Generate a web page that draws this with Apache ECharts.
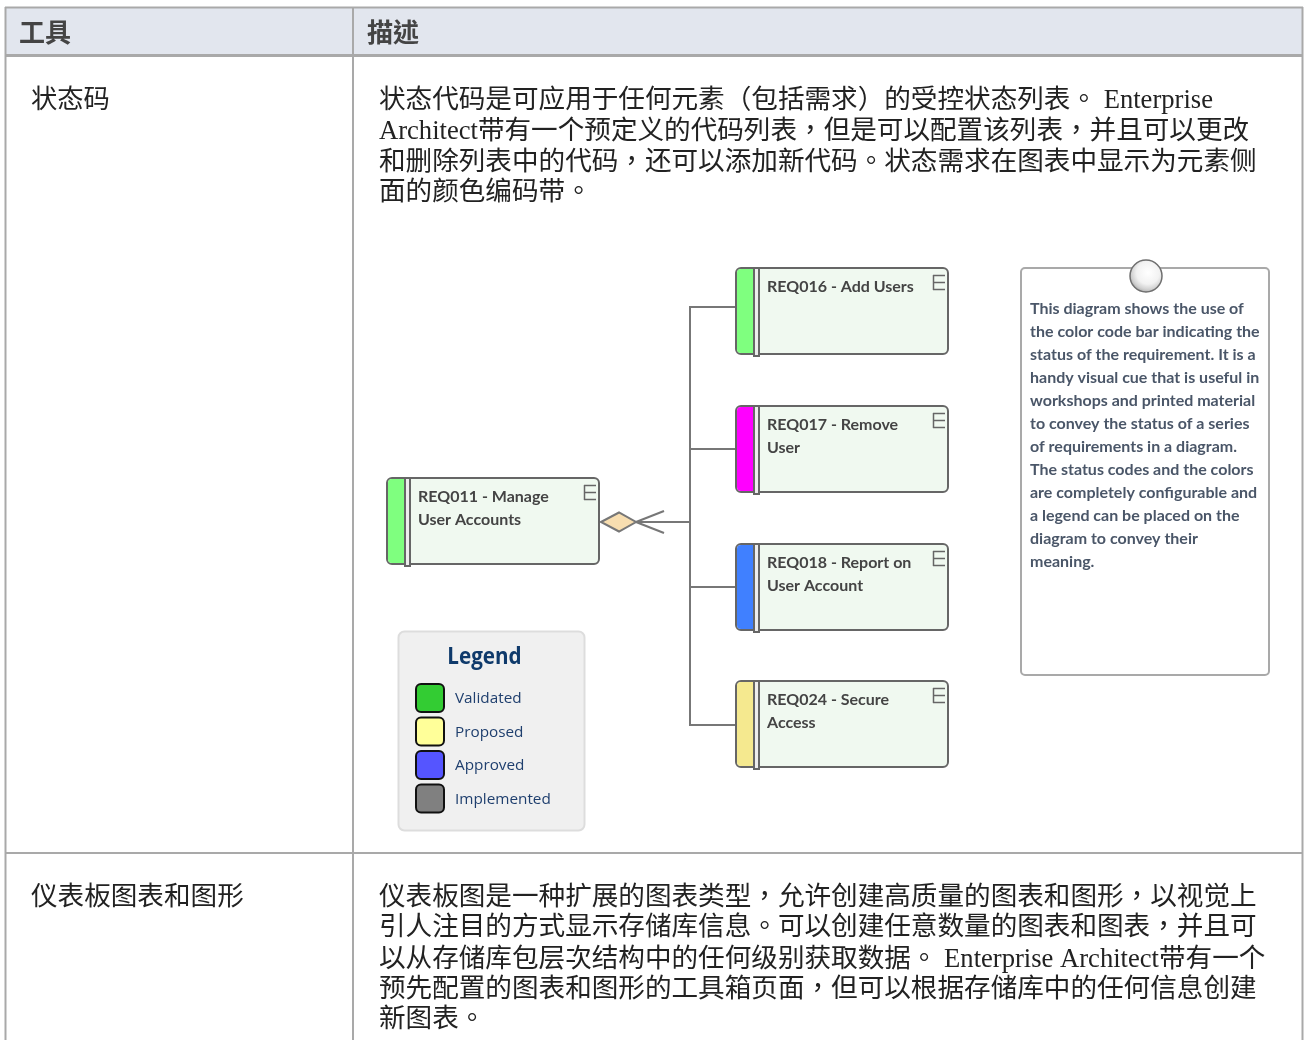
<!DOCTYPE html>
<html>
<head>
<meta charset="utf-8">
<title>状态码</title>
<script src="https://cdn.jsdelivr.net/npm/echarts@6/dist/echarts.min.js"></script>
<style>
  html, body { margin: 0; padding: 0; background: #fff; }
  #main { width: 1305px; height: 1040px; }
</style>
</head>
<body>
<div id="main"></div>
<script>
// 表格文字
var headers = ['工具', '描述'];
var toolNames = ['状态码', '仪表板图表和图形'];
var statusDesc = [
  '状态代码是可应用于任何元素（包括需求）的受控状态列表。 Enterprise',
  'Architect带有一个预定义的代码列表，但是可以配置该列表，并且可以更改',
  '和删除列表中的代码，还可以添加新代码。状态需求在图表中显示为元素侧',
  '面的颜色编码带。'
];
var dashDesc = [
  '仪表板图是一种扩展的图表类型，允许创建高质量的图表和图形，以视觉上',
  '引人注目的方式显示存储库信息。可以创建任意数量的图表和图表，并且可',
  '以从存储库包层次结构中的任何级别获取数据。 Enterprise Architect带有一个',
  '预先配置的图表和图形的工具箱页面，但可以根据存储库中的任何信息创建',
  '新图表。'
];

// 图中的需求元素
var parentReq = ['REQ011 - Manage', 'User Accounts'];
var childReqs = [
  ['REQ016 - Add Users'],
  ['REQ017 - Remove', 'User'],
  ['REQ018 - Report on', 'User Account'],
  ['REQ024 - Secure', 'Access']
];
var childBands = ['#7fff7f', '#ff00ff', '#4080ff', '#f5e98f'];

// 图例
var legendTitle = 'Legend';
var legendNames = ['Validated', 'Proposed', 'Approved', 'Implemented'];
var legendColors = ['#33cc33', '#ffff99', '#5555ff', '#808080'];

// 注释
var noteLines = [
  'This diagram shows the use of',
  'the color code bar indicating the',
  'status of the requirement. It is a',
  'handy visual cue that is useful in',
  'workshops and printed material',
  'to convey the status of a series',
  'of requirements in a diagram.',
  'The status codes and the colors',
  'are completely configurable and',
  'a legend can be placed on the',
  'diagram to convey their',
  'meaning.'
];

var BODY_FONT = '"Liberation Serif", "Noto Sans CJK TC", serif';
var LINE = '#a9a9a9';
var DARK = '#666666';

var els = [];

function rect(x, y, w, h, fill, stroke, lw, r, z) {
  els.push({
    type: 'rect', z: z || 1, silent: true,
    shape: { x: x, y: y, width: w, height: h, r: r || 0 },
    style: { fill: fill || 'none', stroke: stroke || 'none', lineWidth: lw || 0 }
  });
}
function line(x1, y1, x2, y2, color, lw, z) {
  els.push({
    type: 'line', z: z || 2, silent: true,
    shape: { x1: x1, y1: y1, x2: x2, y2: y2 },
    style: { stroke: color, lineWidth: lw }
  });
}
function text(str, x, y, font, color, z, align) {
  els.push({
    type: 'text', z: z || 5, silent: true, x: x, y: y,
    style: { text: str, font: font, fill: color, textAlign: align || 'left', textVerticalAlign: 'middle' }
  });
}

// 表格
rect(6, 8, 1296, 47, '#e2e6ee');
line(5.5, 7, 5.5, 1040, LINE, 2);
line(353, 7, 353, 1040, LINE, 2);
line(1302.5, 7, 1302.5, 1040, LINE, 2);
line(5, 7.5, 1303, 7.5, LINE, 2);
line(5, 55.5, 1303, 55.5, LINE, 3);
line(5, 853, 1303, 853, LINE, 2);

text(headers[0], 19, 32, 'bold 26px "Noto Sans CJK TC"', '#444444');
text(headers[1], 367, 32, 'bold 26px "Noto Sans CJK TC"', '#444444');
text(toolNames[0], 31, 101, '26.3px ' + BODY_FONT, '#222222');
text(toolNames[1], 31, 898, '26.6px ' + BODY_FONT, '#222222');

var statusY = [101, 132, 163, 193];
statusDesc.forEach(function (s, i) {
  text(s, 379, statusY[i], '26.6px ' + BODY_FONT, '#222222');
});
var dashY = [898, 928, 960, 990, 1020];
dashDesc.forEach(function (s, i) {
  text(s, 379, dashY[i], '26.6px ' + BODY_FONT, '#222222');
});

// 需求元素
function reqBox(x, y, band, lines) {
  rect(x, y, 212, 86, '#f0f9f0', DARK, 2, 5, 3);
  els.push({
    type: 'rect', z: 4, silent: true,
    shape: { x: x + 1, y: y + 1, width: 17, height: 84, r: [4, 0, 0, 4] },
    style: { fill: band }
  });
  rect(x + 18, y, 5, 88, '#eeeeee', DARK, 2, 0, 4);
  // 右上角的 E
  line(x + 197.5, y + 7, x + 197.5, y + 22, DARK, 1.5, 4);
  line(x + 197, y + 7.5, x + 209, y + 7.5, DARK, 1.5, 4);
  line(x + 197, y + 14.5, x + 209, y + 14.5, DARK, 1.5, 4);
  line(x + 197, y + 21.5, x + 209, y + 21.5, DARK, 1.5, 4);
  lines.forEach(function (s, i) {
    text(s, x + 31, y + 19 + i * 22.5, 'bold 16px Lato', '#444444');
  });
}

// 连接线
var childY = [268, 406, 544, 681];
var joinY = [307, 449, 587, 725];
line(690, 306, 690, 726, '#777777', 2);
joinY.forEach(function (y) {
  line(690, y, 736, y, '#777777', 2);
});
line(636, 522, 690, 522, '#777777', 2);
line(636, 522, 664, 511, '#777777', 2);
line(636, 522, 664, 533, '#777777', 2);
els.push({
  type: 'polygon', z: 3, silent: true,
  shape: { points: [[601, 522], [619, 512.5], [636, 522], [619, 531.5]] },
  style: { fill: '#f8deb0', stroke: '#777777', lineWidth: 2 }
});

reqBox(387, 478, '#7fff7f', parentReq);
childReqs.forEach(function (lines, i) {
  reqBox(736, childY[i], childBands[i], lines);
});

// 图例
rect(398.5, 631.5, 186, 199, '#f0f0f0', '#dddddd', 2, 6, 3);
els.push({
  type: 'text', z: 5, silent: true, x: 484.5, y: 657, scaleX: 0.86,
  style: { text: legendTitle, font: 'bold 24px "Open Sans"', fill: '#0f3a6b', textAlign: 'center', textVerticalAlign: 'middle' }
});
var swatchY = [684, 717.5, 751, 784.5];
legendNames.forEach(function (s, i) {
  rect(416, swatchY[i], 28, 28, legendColors[i], '#111111', 2, 5, 4);
  text(s, 455, Math.round(swatchY[i] + 15), '15.3px "Open Sans"', '#1f3f6e');
});

// 注释
rect(1021, 268, 248, 407, '#ffffff', '#a9a9a9', 2, 4, 3);
els.push({
  type: 'circle', z: 4, silent: true,
  shape: { cx: 1146, cy: 276, r: 16 },
  style: {
    fill: {
      type: 'radial', x: 0.56, y: 0.4, r: 0.62,
      colorStops: [
        { offset: 0, color: '#ffffff' },
        { offset: 0.55, color: '#f2f2f2' },
        { offset: 0.8, color: '#d2d2d2' },
        { offset: 1, color: '#a5a5a5' }
      ]
    },
    stroke: '#6f6f6f', lineWidth: 1.5
  }
});
noteLines.forEach(function (s, i) {
  text(s, 1030, 308.5 + i * 23, 'bold 16px Lato', '#4a5668');
});

var myChart = echarts.init(document.getElementById('main'));
myChart.setOption({
  backgroundColor: '#ffffff',
  animation: false,
  graphic: { elements: els }
});
</script>
</body>
</html>
